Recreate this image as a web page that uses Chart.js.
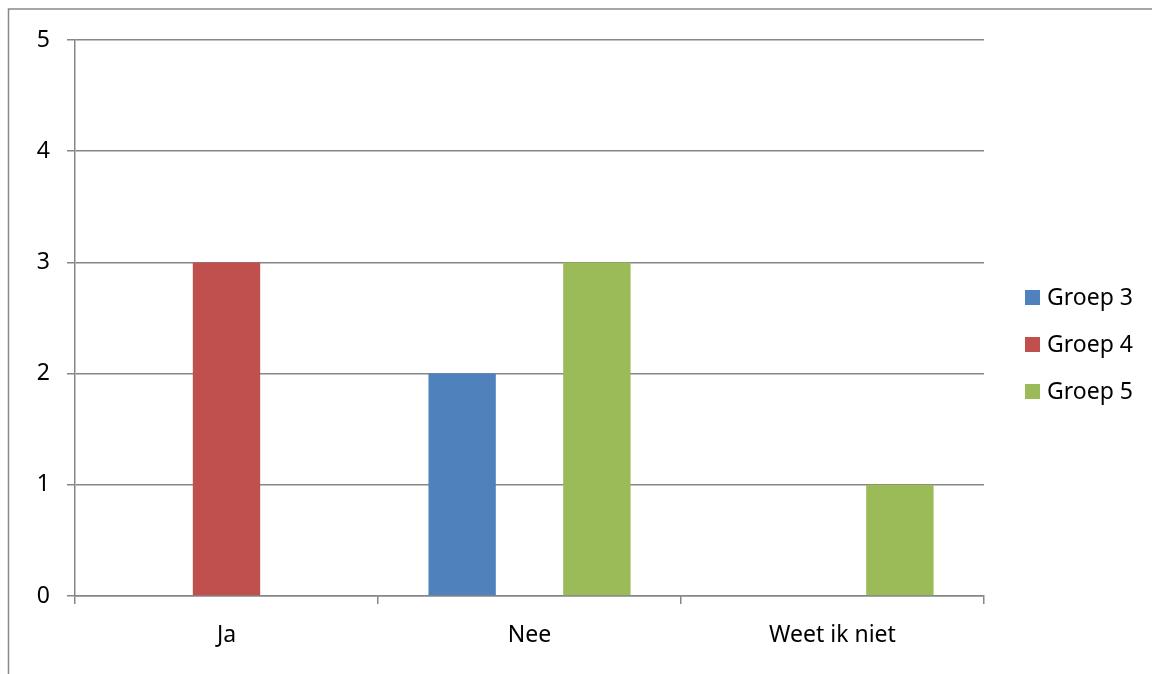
<!DOCTYPE html>
<html>
<head>
<meta charset="utf-8">
<script src="https://cdn.jsdelivr.net/npm/chart.js@4"></script>
<style>
  html, body { margin: 0; padding: 0; background: #fff; }
  #wrap { width: 1152px; height: 674px; position: relative; }
</style>
</head>
<body>
<div id="wrap"><canvas id="c" width="1152" height="674"></canvas></div>
<script>
const categories = ['Ja', 'Nee', 'Weet ik niet'];
const seriesNames = ['Groep 3', 'Groep 4', 'Groep 5'];
const groep3 = [0, 2, 0];
const groep4 = [3, 0, 0];
const groep5 = [0, 3, 1];
const yTicks = [0, 1, 2, 3, 4, 5];

const colors = ['#4F81BD', '#C0504D', '#9BBB59'];
const FONT = "'Noto Sans', 'Open Sans', sans-serif";
const FONT_SIZE = 23;
const gridColor = '#868686';

// Outer frame along the top and left edge
const framePlugin = {
  id: 'frame',
  beforeDraw(chart) {
    const ctx = chart.ctx;
    ctx.save();
    ctx.strokeStyle = '#898989';
    ctx.lineWidth = 1.5;
    ctx.beginPath();
    ctx.moveTo(8.5, 674);
    ctx.lineTo(8.5, 9);
    ctx.lineTo(1152, 9);
    ctx.stroke();
    ctx.restore();
  }
};

// Legend on the right, drawn from the datasets
const sideLegend = {
  id: 'sideLegend',
  afterDraw(chart) {
    const ctx = chart.ctx;
    ctx.save();
    ctx.font = FONT_SIZE + 'px ' + FONT;
    ctx.textBaseline = 'middle';
    chart.data.datasets.forEach((ds, i) => {
      const cy = 297.5 + i * 47;
      ctx.fillStyle = ds.backgroundColor;
      ctx.fillRect(1025, cy - 7.5, 15, 15);
      ctx.fillStyle = '#000';
      ctx.fillText(ds.label, 1047, cy + 1);
    });
    ctx.restore();
  }
};

new Chart(document.getElementById('c'), {
  type: 'bar',
  data: {
    labels: categories,
    datasets: [
      { label: seriesNames[0], data: groep3, backgroundColor: colors[0] },
      { label: seriesNames[1], data: groep4, backgroundColor: colors[1] },
      { label: seriesNames[2], data: groep5, backgroundColor: colors[2] }
    ]
  },
  options: {
    responsive: false,
    animation: false,
    devicePixelRatio: 1,
    layout: { padding: { left: 0, top: 40, right: 168, bottom: 0 } },
    datasets: { bar: { categoryPercentage: 0.667, barPercentage: 1.0 } },
    plugins: {
      legend: { display: false },
      tooltip: { enabled: false }
    },
    scales: {
      x: {
        afterFit(scale) { scale.height = 78; },
        grid: {
          offset: true,
          drawOnChartArea: false,
          drawTicks: true,
          tickLength: 8,
          color: gridColor,
          lineWidth: 1.5
        },
        border: { color: gridColor, width: 1.5 },
        ticks: {
          color: '#000',
          font: { family: FONT, size: FONT_SIZE },
          padding: 18
        }
      },
      y: {
        min: 0,
        max: 5,
        afterFit(scale) { scale.width = 75; },
        afterBuildTicks(scale) { scale.ticks = yTicks.map(v => ({ value: v })); },
        grid: {
          color: gridColor,
          lineWidth: 1.5,
          drawTicks: true,
          tickLength: 8
        },
        border: { color: gridColor, width: 1.5 },
        ticks: {
          color: '#000',
          font: { family: FONT, size: FONT_SIZE },
          padding: 17
        }
      }
    }
  },
  plugins: [framePlugin, sideLegend]
});
</script>
</body>
</html>
